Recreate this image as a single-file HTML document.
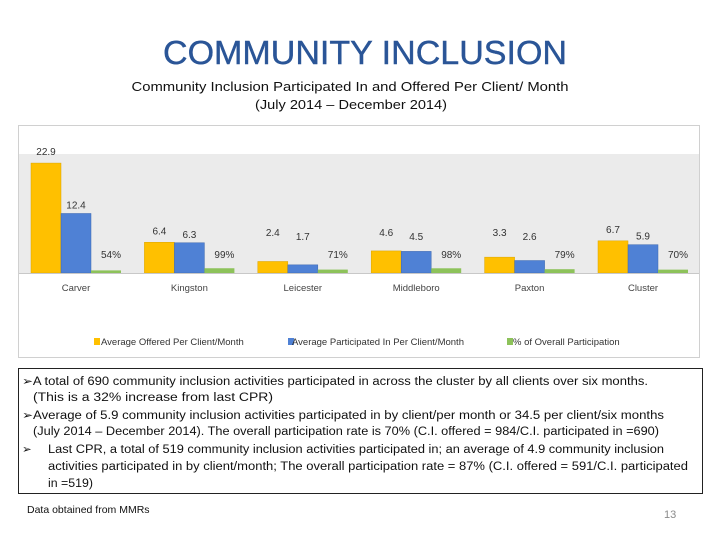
<!DOCTYPE html>
<html><head><meta charset="utf-8"><style>
html,body{margin:0;padding:0;background:#fff;}
svg{display:block;font-family:"Liberation Sans",sans-serif;}
</style></head><body>
<svg id="s" width="720" height="540" viewBox="0 0 720 540" xmlns="http://www.w3.org/2000/svg">
<text x="365" y="64" text-anchor="middle" font-size="33" fill="#2a5597" stroke="#2a5597" stroke-width="0.4" textLength="404" lengthAdjust="spacingAndGlyphs">COMMUNITY INCLUSION</text>
<text x="350" y="91" text-anchor="middle" font-size="13" fill="#111" textLength="437" lengthAdjust="spacingAndGlyphs">Community Inclusion Participated In and Offered Per Client/ Month</text>
<text x="351" y="109" text-anchor="middle" font-size="13" fill="#111" textLength="192" lengthAdjust="spacingAndGlyphs">(July 2014  – December 2014)</text>
<rect x="18.5" y="125.5" width="681" height="232" fill="#fff" stroke="#d0d0d0"/>
<rect x="19" y="154" width="680" height="119" fill="#ebebeb"/>
<g id="bars"></g>
<line x1="19" y1="273.5" x2="699" y2="273.5" stroke="#c8c8c8"/>
<g id="legend" font-size="9.5" fill="#333">
<rect x="94" y="338" width="6" height="7" fill="#ffc000"/>
<text x="101" y="345">Average Offered Per Client/Month</text>
<rect x="288" y="338" width="6" height="7" fill="#4f81d5"/>
<text x="292" y="345">Average Participated In Per Client/Month</text>
<rect x="507" y="338" width="6" height="7" fill="#8dc25a"/>
<text x="513" y="345">% of Overall Participation</text>
</g>
<rect x="18.5" y="368.5" width="684" height="125" fill="#fff" stroke="#222"/>
<g font-size="11.5" fill="#111">
<text x="22" y="385" textLength="626" lengthAdjust="spacingAndGlyphs">➢A total of 690 community inclusion activities participated in across the cluster by all clients over six months.</text>
<text x="33" y="401" textLength="240" lengthAdjust="spacingAndGlyphs">(This is a 32% increase from last CPR)</text>
<text x="22" y="419" textLength="642" lengthAdjust="spacingAndGlyphs">➢Average of 5.9 community inclusion activities participated in by client/per month or 34.5 per client/six months</text>
<text x="33" y="435" textLength="626" lengthAdjust="spacingAndGlyphs">(July 2014 – December 2014). The overall participation rate is 70% (C.I. offered = 984/C.I. participated in =690)</text>
<text x="22" y="453">➢</text>
<text x="48" y="453" textLength="616" lengthAdjust="spacingAndGlyphs">Last CPR, a total of 519 community inclusion activities participated in; an average of 4.9 community inclusion</text>
<text x="48" y="470" textLength="640" lengthAdjust="spacingAndGlyphs">activities participated in by client/month; The overall participation rate = 87% (C.I. offered = 591/C.I. participated</text>
<text x="48" y="487" textLength="45" lengthAdjust="spacingAndGlyphs">in =519)</text>
</g>
<text x="27" y="513" font-size="10.5" fill="#111">Data obtained from MMRs</text>
<text x="664" y="518" font-size="11" fill="#8a8a8a">13</text>
</svg>
<script>
const categories = ["Carver","Kingston","Leicester","Middleboro","Paxton","Cluster"];
const offered = [22.9,6.4,2.4,4.6,3.3,6.7];
const participated = [12.4,6.3,1.7,4.5,2.6,5.9];
const percentParticipation = [54,99,71,98,79,70];

const NS = "http://www.w3.org/2000/svg";
const g = document.getElementById('bars');
const baseY = 273, unit = 4.8, x0 = 31, step = 113.4, bw = 30;
function yScale(v){ return baseY - v*unit; }
function xScale(i, k){ return x0 + i*step + k*bw; }
function mk(tag, attrs){ const e = document.createElementNS(NS, tag); for (const k in attrs) e.setAttribute(k, attrs[k]); g.appendChild(e); return e; }
categories.forEach((c, i) => {
  let r = mk('rect', {x: xScale(i,0), y: yScale(offered[i]), width: bw, height: baseY - yScale(offered[i]), fill: '#ffc000', stroke: '#d9a400', 'stroke-width': 0.5});
  
  
  r = mk('rect', {x: xScale(i,1), y: yScale(participated[i]), width: bw, height: baseY - yScale(participated[i]), fill: '#4f81d5', stroke: '#3d68b0', 'stroke-width': 0.5});
  
  
  const pv = percentParticipation[i] / 100;
  r = mk('rect', {x: xScale(i,2), y: yScale(pv), width: bw, height: baseY - yScale(pv), fill: '#8dc25a'});
  
  
  let t = mk('text', {x: xScale(i,0) + bw/2, y: Math.min(yScale(offered[i]) - 8, 236), 'text-anchor': 'middle', 'font-size': 10, fill: '#333'});
  t.textContent = offered[i].toFixed(1);
  
  
  t = mk('text', {x: xScale(i,1) + bw/2, y: Math.min(yScale(participated[i]) - 5, 240), 'text-anchor': 'middle', 'font-size': 10, fill: '#333'});
  t.textContent = participated[i].toFixed(1);
  
  
  t = mk('text', {x: xScale(i,2) + bw/2 + 5, y: 258, 'text-anchor': 'middle', 'font-size': 10, fill: '#333'});
  t.textContent = percentParticipation[i] + '%';
  
  
  t = mk('text', {x: xScale(i,1) + bw/2, y: 291, 'text-anchor': 'middle', 'font-size': 9.5, fill: '#444'});
  t.textContent = c;
  
  
});
</script>
</body></html>
